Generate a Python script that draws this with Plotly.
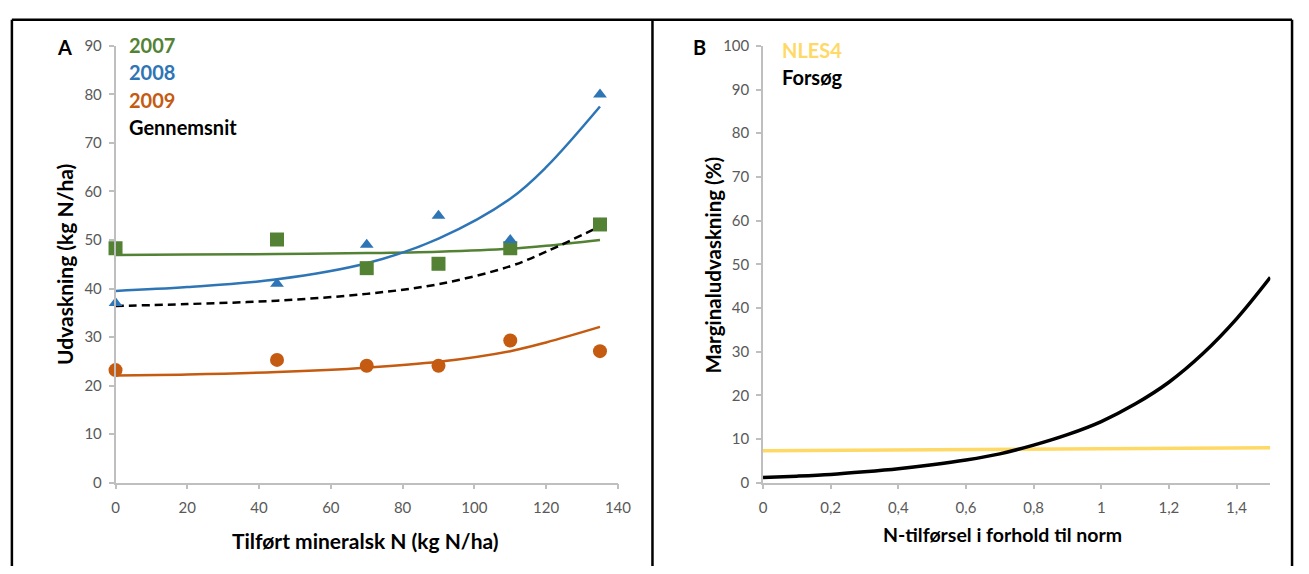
import plotly.graph_objects as go

# ---------------- Panel A data ----------------
n_levels = [0, 45, 70, 90, 110, 135]
obs_2007 = [48.3, 50.1, 44.2, 45.1, 48.3, 53.2]
obs_2008 = [37.0, 41.0, 49.0, 55.0, 50.0, 80.0]
obs_2009 = [23.2, 25.3, 24.1, 24.1, 29.3, 27.1]

trend_x = [0, 20, 45, 70, 90, 110, 120, 135]
trend_2007 = [46.9, 47.0, 47.1, 47.3, 47.6, 48.2, 48.8, 50.0]
trend_2008 = [39.5, 40.3, 41.9, 45.2, 50.3, 58.5, 65.0, 77.5]
trend_2009 = [22.1, 22.3, 22.8, 23.7, 24.9, 27.1, 28.9, 32.1]
trend_mean = [36.4, 36.8, 37.5, 38.9, 40.9, 44.6, 47.6, 52.8]

# ---------------- Panel B data ----------------
ratio = [0, 0.1, 0.2, 0.3, 0.4, 0.5, 0.6, 0.7, 0.8, 0.9, 1.0, 1.1, 1.2, 1.3, 1.4, 1.5]
forsoeg = [1.2, 1.5, 1.9, 2.5, 3.2, 4.1, 5.2, 6.6, 8.6, 11.0, 14.0, 18.0, 23.0, 29.5, 37.5, 47.0]
nles_x = [0, 1.5]
nles4 = [7.3, 8.0]

A_x_ticks = [0, 20, 40, 60, 80, 100, 120, 140]
A_y_ticks = [0, 10, 20, 30, 40, 50, 60, 70, 80, 90]
B_x_ticks = [0, 0.2, 0.4, 0.6, 0.8, 1.0, 1.2, 1.4]
B_x_labels = ["0", "0,2", "0,4", "0,6", "0,8", "1", "1,2", "1,4"]
B_y_ticks = list(range(0, 101, 10))

GREEN = "#548235"
BLUE = "#2E75B6"
ORANGE = "#C55A11"
YELLOW = "#FFD966"
FONT = "Lato"
W, H = 1309, 574

fig = go.Figure()

# trend lines A
fig.add_trace(go.Scatter(x=trend_x, y=trend_2007, mode="lines", line=dict(color=GREEN, width=2.5, shape="spline"), xaxis="x", yaxis="y"))
fig.add_trace(go.Scatter(x=trend_x, y=trend_2008, mode="lines", line=dict(color=BLUE, width=2.5, shape="spline"), xaxis="x", yaxis="y"))
fig.add_trace(go.Scatter(x=trend_x, y=trend_2009, mode="lines", line=dict(color=ORANGE, width=2.5, shape="spline"), xaxis="x", yaxis="y"))
fig.add_trace(go.Scatter(x=trend_x, y=trend_mean, mode="lines", line=dict(color="black", width=2.5, dash="8px,5px", shape="spline"), xaxis="x", yaxis="y"))

# observations A
fig.add_trace(go.Scatter(x=n_levels, y=obs_2007, mode="markers", marker=dict(symbol="square", size=14, color=GREEN), cliponaxis=False, xaxis="x", yaxis="y"))
fig.add_trace(go.Scatter(x=n_levels, y=obs_2008, mode="markers", marker=dict(symbol="triangle-up", size=12, color=BLUE), cliponaxis=False, xaxis="x", yaxis="y"))
fig.add_trace(go.Scatter(x=n_levels, y=obs_2009, mode="markers", marker=dict(symbol="circle", size=14, color=ORANGE), cliponaxis=False, xaxis="x", yaxis="y"))

# Panel B
fig.add_trace(go.Scatter(x=nles_x, y=nles4, mode="lines", line=dict(color=YELLOW, width=3.5), xaxis="x2", yaxis="y2"))
fig.add_trace(go.Scatter(x=ratio, y=forsoeg, mode="lines", line=dict(color="black", width=3.5, shape="spline"), xaxis="x2", yaxis="y2"))

axis_common = dict(showgrid=False, zeroline=False, showline=True, linecolor="#BFBFBF", linewidth=1.5,
                   ticks="outside", ticklen=5, tickcolor="#BFBFBF", tickwidth=1.5,
                   tickfont=dict(family=FONT, size=15, color="#595959"))

fig.update_layout(
    width=W, height=H,
    margin=dict(l=0, r=0, t=0, b=0),
    paper_bgcolor="white", plot_bgcolor="white",
    showlegend=False,
    separators=", ",
    xaxis=dict(domain=[113 / W, 622 / W], range=[0, 140], tickvals=A_x_ticks, anchor="y",
               ticklabelstandoff=6, **axis_common),
    yaxis=dict(domain=[1 - 488 / H, 1 - 37 / H], range=[0, 90], tickvals=A_y_ticks, anchor="x",
               ticklabelstandoff=4, **axis_common),
    xaxis2=dict(domain=[769 / W, 1283 / W], range=[0, 1.5], tickvals=B_x_ticks, ticktext=B_x_labels, anchor="y2",
                ticklabelstandoff=6, **axis_common),
    yaxis2=dict(domain=[1 - 488 / H, 1 - 37 / H], range=[0, 100], tickvals=B_y_ticks, anchor="x2",
                ticklabelstandoff=4, **axis_common),
)

# borders
border = dict(color="black", width=2.5)
fig.add_shape(type="line", xref="paper", yref="paper", x0=8 / W, x1=1305 / W, y0=1 - 10 / H, y1=1 - 10 / H, line=border)
fig.add_shape(type="line", xref="paper", yref="paper", x0=8 / W, x1=8 / W, y0=0, y1=1 - 10 / H, line=border)
fig.add_shape(type="line", xref="paper", yref="paper", x0=657 / W, x1=657 / W, y0=0, y1=1 - 10 / H, line=border)
fig.add_shape(type="line", xref="paper", yref="paper", x0=1305 / W, x1=1305 / W, y0=0, y1=1 - 10 / H, line=border)

def text(t, x, y, color="black", size=20, anchor="left", angle=0):
    fig.add_annotation(text=f"<b>{t}</b>", xref="paper", yref="paper", x=x / W, y=1 - y / H,
                       xanchor=anchor, yanchor="middle", showarrow=False, textangle=angle,
                       font=dict(family=FONT, size=size, color=color))

# axis titles
text("Tilført mineralsk N (kg N/ha)", 366, 548, size=21, anchor="center")
text("Udvaskning (kg N/ha)", 62, 263, size=21, anchor="center", angle=-90)
text("N-tilførsel i forhold til norm", 1012, 541, size=19.5, anchor="center")
text("Marginaludvaskning (%)", 718, 264, size=20.5, anchor="center", angle=-90)

# panel letters and legend labels
text("A", 52, 38, size=20)
text("2007", 125, 36, GREEN)
text("2008", 125, 64, BLUE)
text("2009", 125, 93, ORANGE)
text("Gennemsnit", 125, 121)
text("B", 696, 38, size=20)
text("NLES4", 786, 41, YELLOW)
text("Forsøg", 786, 69)

fig.write_html("out.html")

# remove default page margin so the figure sits at the window origin
with open("out.html", "r", encoding="utf-8") as f:
    html = f.read()
html = html.replace("<head>", "<head><style>html,body{margin:0;padding:0;overflow:hidden;}</style>", 1)
with open("out.html", "w", encoding="utf-8") as f:
    f.write(html)
